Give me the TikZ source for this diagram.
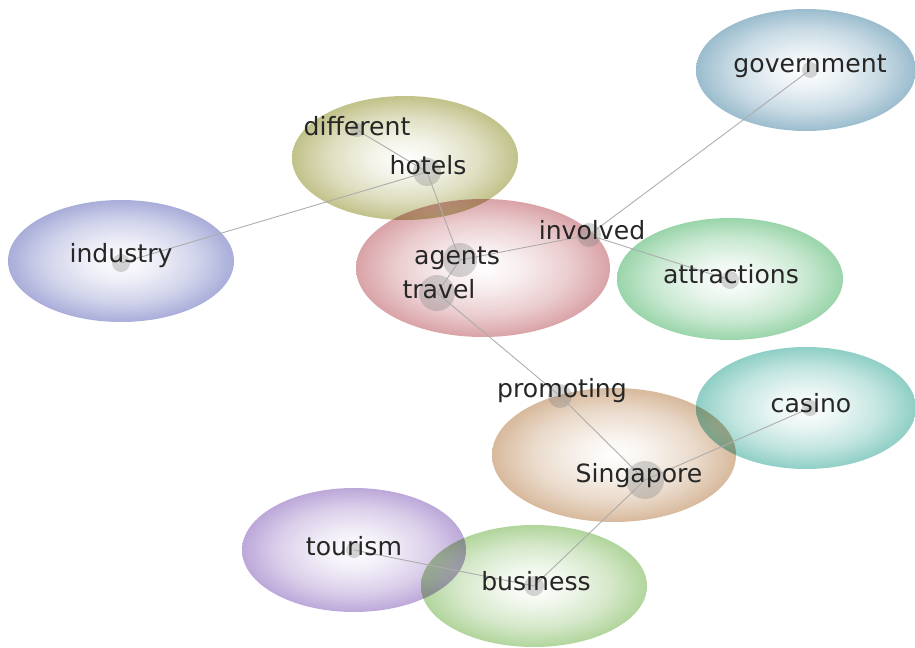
\documentclass[tikz,border=0pt]{standalone}
\usepackage{fontspec}
\setmainfont{DejaVu Sans}

\definecolor{govblue}{HTML}{8DB3C7}
\definecolor{hotelolive}{HTML}{B9B97A}
\definecolor{indviolet}{HTML}{9DA2D4}
\definecolor{agentred}{HTML}{D4969B}
\definecolor{attrgreen}{HTML}{8CCF9E}
\definecolor{casinoteal}{HTML}{7FC8BD}
\definecolor{singtan}{HTML}{D2B08F}
\definecolor{tourpurple}{HTML}{B39CD4}
\definecolor{busgreen}{HTML}{A6CF8E}
\colorlet{bubblecol}{gray}

% pale middle, colour gathering towards the rim
\pgfdeclareradialshading[bubblecol]{bubbleshade}{\pgfpointorigin}{%
	color(0bp)=(white); color(8bp)=(bubblecol!18!white);
	color(17bp)=(bubblecol!48!white); color(25bp)=(bubblecol!88!white);
	color(50bp)=(bubblecol!88!white)}

\tikzset{
	bubble/.style={shading=bubbleshade, blend mode=multiply},
	dot/.style={circle, inner sep=0pt, fill=gray, fill opacity=.33},
	link/.style={draw=gray!65, line width=.5pt},
	word/.style={inner sep=0pt, text=black!85, font=\fontsize{14.3}{17}\selectfont},
}

\begin{document}
\begin{tikzpicture}[x=.02cm, y=-.02cm]
	\def\px{.02cm}
	\useasboundingbox (0,0) rectangle (915,648);

	% topic bubbles
	\foreach \cx/\cy/\rx/\ry/\col in {
		806/70/110/61/govblue, 405/158/113/62/hotelolive, 121/261/113/61/indviolet,
		483/268/127/69/agentred, 730/279/113/61/attrgreen, 806/408/110/61/casinoteal,
		614/455/122/67/singtan, 354/550/112/62/tourpurple, 534/586/113/61/busgreen}
	{
		\colorlet{bubblecol}{\col}
		\shade[bubble] (\cx,\cy) ellipse[x radius=\rx, y radius=\ry];
	}

	% word dots
	\foreach \name/\x/\y/\d in {
		government/810/70/16, different/357/130/14, hotels/427/172/28,
		industry/121/263/18, involved/589/235/24, agents/460/260/34,
		travel/437/293/36, attractions/730/280/18, promoting/560/396/24,
		casino/810/408/16, singapore/645/480/38, tourism/354/550/16,
		business/534/586/20}
		\node[dot, minimum size=\d*\px] (\name) at (\x,\y) {};

	% co-occurrence links
	\foreach \a/\b in {different/hotels, hotels/industry, hotels/agents, agents/travel,
		agents/involved, involved/government, involved/attractions, travel/promoting,
		promoting/singapore, singapore/casino, singapore/business, business/tourism}
		\draw[link] (\a.center) -- (\b.center);

	% labels
	\node[word] (government-l) at (810,66) {government};
	\node[word] (different-l) at (357,126) {different};
	\node[word] (hotels-l) at (428,165) {hotels};
	\node[word] (industry-l) at (121,256) {industry};
	\node[word] (involved-l) at (592,230) {involved};
	\node[word] (agents-l) at (457,258) {agents};
	\node[word] (travel-l) at (439,289) {travel};
	\node[word] (attractions-l) at (731,274) {attractions};
	\node[word] (promoting-l) at (562,391) {promoting};
	\node[word] (casino-l) at (811,403) {casino};
	\node[word] (singapore-l) at (639,476) {Singapore};
	\node[word] (tourism-l) at (354,546) {tourism};
	\node[word] (business-l) at (536,581) {business};
\end{tikzpicture}
\end{document}
